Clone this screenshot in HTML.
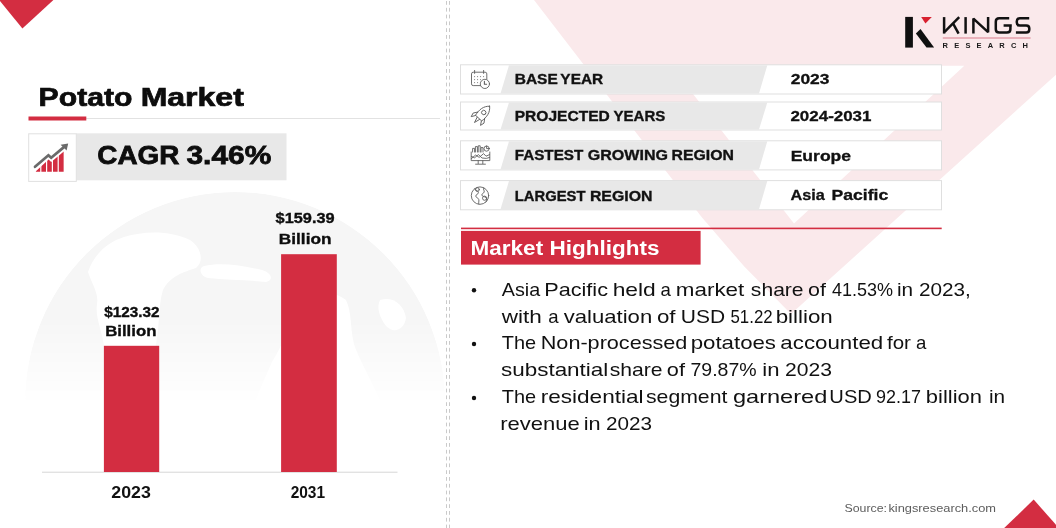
<!DOCTYPE html>
<html><head><meta charset="utf-8">
<style>
html,body{margin:0;padding:0;background:#fff;}
body{width:1056px;height:528px;position:relative;overflow:hidden;font-family:"Liberation Sans",sans-serif;}
svg{position:absolute;left:0;top:0;}
.t{opacity:0.999;position:absolute;white-space:nowrap;line-height:1;transform-origin:0 0;display:block;}
</style></head><body>
<svg width="1056" height="528" viewBox="0 0 1056 528">
<defs>
<linearGradient id="gfade" x1="0" y1="0" x2="0" y2="1">
<stop offset="0" stop-color="#fff" stop-opacity="1"/><stop offset="0.56" stop-color="#fff" stop-opacity="1"/><stop offset="0.9" stop-color="#fff" stop-opacity="0"/>
</linearGradient>
<mask id="gm"><rect x="0" y="180" width="460" height="250" fill="url(#gfade)"/></mask>
<clipPath id="gc"><circle cx="235" cy="402" r="210"/></clipPath>
</defs>
<!-- background V -->
<polygon points="534,0 1056,0 1056,74.7 791,314 744.5,266.8 702,217.6 634,130" fill="#fae9eb"/>
<polygon points="671,65.8 964.3,65.8 794,223.5" fill="#ffffff"/>
<!-- corner triangles -->
<polygon points="0,0 53.4,0 22.4,28.4 0,1" fill="#d32d41"/>
<polygon points="1004.2,528 1033.7,499.6 1056,524.8 1056,528" fill="#d32d41"/>
<!-- dashed separators -->
<line x1="446.5" y1="1" x2="446.5" y2="528" stroke="#cacaca" stroke-width="1" stroke-dasharray="3.8 3"/>
<line x1="449.5" y1="1" x2="449.5" y2="528" stroke="#cacaca" stroke-width="1" stroke-dasharray="3.8 3"/>
<!-- globe -->
<g mask="url(#gm)"><g clip-path="url(#gc)" fill="#f6f6f6">
<circle cx="235" cy="402" r="210"/>
<g fill="#ffffff">
<path d="M88,272 C94,254 108,242 124,237 C146,230 172,231 190,240 C202,248 204,262 196,268 C184,272 170,276 163,290 C158,306 160,324 156,344 C152,366 146,386 140,410 L98,410 C102,388 106,366 104,346 C102,330 95,318 97,304 C99,294 92,284 88,272 Z"/>
<path d="M284,332 C286,316 292,304 304,297 C318,291 334,291 346,300 C352,312 350,328 354,344 C360,362 372,380 384,410 L248,420 C256,398 264,380 272,362 C278,352 283,344 284,332 Z"/>
<path d="M204,266 C222,262 244,266 262,270 C272,273 274,280 266,282 C248,280 226,280 208,278 C200,276 198,268 204,266 Z"/>
<path d="M380,300 C392,296 404,304 406,318 C404,330 394,334 386,326 C380,318 376,308 380,300 Z"/>
</g>

</g></g>
<!-- title underline -->
<rect x="86" y="118" width="354" height="1" fill="#e2e2e2"/>
<rect x="28.5" y="116.5" width="57.8" height="4" fill="#d32d41"/>
<!-- CAGR -->
<rect x="76.3" y="133.3" width="210.2" height="47" fill="#e8e8e8"/>
<rect x="28.7" y="133.8" width="47.6" height="47.6" fill="#fff" stroke="#e0e0e0" stroke-width="1"/>
<g id="cagricon">
<g>
<clipPath id="barsclip"><polygon points="35.6,171.8 35.6,171.4 48.6,159.6 51.2,162 63.8,151.4 63.8,171.8"/></clipPath>
<g clip-path="url(#barsclip)" fill="#d32d41">
<rect x="35.6" y="140" width="4.6" height="32"/>
<rect x="41.4" y="140" width="4.6" height="32"/>
<rect x="47.2" y="140" width="4.6" height="32"/>
<rect x="53.0" y="140" width="4.6" height="32"/>
<rect x="58.8" y="140" width="5.0" height="32"/>
</g>
<path d="M35,166.8 L48.4,155.2 L51.2,157.8 L63.6,147.4" fill="none" stroke="#6a6a6a" stroke-width="2.7" stroke-linecap="round" stroke-linejoin="miter"/>
<polygon points="68.2,143.6 66.6,150.6 60.6,144.8" fill="#6a6a6a"/>
</g>

</g>
<!-- bars -->
<rect x="42" y="471.7" width="355.5" height="1" fill="#d6d6d6"/>
<rect x="103.9" y="345.8" width="55.3" height="126.2" fill="#d32d41"/>
<rect x="281.1" y="254.2" width="55.7" height="217.8" fill="#d32d41"/>
<!-- rows -->
<rect x="460.5" y="64.8" width="481" height="29.2" fill="#fff" stroke="#dfdfdf" stroke-width="1"/>
<polygon points="509,65.3 767.3,65.3 759,93.5 500.5,93.5" fill="#e8e8e8"/>
<rect x="460.5" y="102.0" width="481" height="28.0" fill="#fff" stroke="#dfdfdf" stroke-width="1"/>
<polygon points="509,102.5 767.3,102.5 759,129.5 500.5,129.5" fill="#e8e8e8"/>
<rect x="460.5" y="140.8" width="481" height="29.1" fill="#fff" stroke="#dfdfdf" stroke-width="1"/>
<polygon points="509,141.3 767.3,141.3 759,169.4 500.5,169.4" fill="#e8e8e8"/>
<rect x="460.5" y="180.6" width="481" height="29.2" fill="#fff" stroke="#dfdfdf" stroke-width="1"/>
<polygon points="509,181.1 767.3,181.1 759,209.3 500.5,209.3" fill="#e8e8e8"/>
<g fill="none" stroke="#606060" stroke-width="0.9" stroke-linecap="round" stroke-linejoin="round">
<path d="M480.5,85.6 H473.2 Q471.5,85.6 471.5,83.9 V73.9 Q471.5,72.2 473.2,72.2 H485.1 Q486.8,72.2 486.8,73.9 V79.2"/>
<path d="M474.6,70.4 V73.4 M483.6,70.4 V73.4"/>
<circle cx="484.9" cy="83.9" r="4.6"/>
<path d="M484.4,81.4 V84.2 H486.6" stroke-width="1.1"/>
</g>
<g fill="#777">
<circle cx="474.6" cy="76.6" r="0.55"/><circle cx="477.6" cy="76.6" r="0.55"/><circle cx="480.6" cy="76.6" r="0.55"/><circle cx="483.6" cy="76.6" r="0.55"/>
<circle cx="474.6" cy="79.6" r="0.55"/><circle cx="477.6" cy="79.6" r="0.55"/><circle cx="480.6" cy="79.6" r="0.55"/>
<circle cx="474.6" cy="82.6" r="0.55"/><circle cx="477.6" cy="82.6" r="0.55"/>
</g>
<g fill="none" stroke="#606060" stroke-width="0.9" stroke-linecap="round" stroke-linejoin="round" transform="translate(480.9,115.6) rotate(43)">
<path d="M0,-12.8 C4.8,-8.8 5.4,-3 4.2,3.4 H-4.2 C-5.4,-3 -4.8,-8.8 0,-12.8 Z"/>
<circle cx="0" cy="-4.2" r="2.2"/>
<path d="M-4.6,-0.6 L-7.4,3.4 L-6.4,7.4 L-4,3.6"/>
<path d="M4.6,-0.6 L7.4,3.4 L6.4,7.4 L4,3.6"/>
<path d="M-1.6,3.8 L0,9.4 L1.6,3.8"/>
</g>
<g fill="none" stroke="#606060" stroke-width="0.9" stroke-linecap="round" stroke-linejoin="round" stroke-width="0.8">
<path d="M471.2,152 V160.6 H489.8 V152"/>
<path d="M478.2,160.6 V163.6 M482.8,160.6 V163.6 M475.6,164.2 H485.4"/>
<path d="M472.6,152 V148.4 H474.6 V152 M475.4,152 V146.6 H477.4 V152 M478.2,152 V145.8 H480.2 V152 M481,152 V147.6 H483 V152"/>
<circle cx="486.6" cy="148.6" r="2.6"/>
<path d="M486.6,146 V148.6 H489.2"/>
<path d="M471.4,158.6 L475.6,155 L479.2,157.4 L483.6,153.6 L486,156.2 L489.6,154.6"/>
<path d="M471.4,156.4 L474.6,157.8 L478.4,154.6 L482,158 L486.4,158.4 L489.6,157.4"/>
</g>
<g fill="none" stroke="#606060" stroke-width="0.9" stroke-linecap="round" stroke-linejoin="round" stroke-width="0.8">
<circle cx="480" cy="195.6" r="8.7"/>
<path d="M474.6,188.8 C476,191 478.6,190.4 478.4,192.8 C478.2,194.6 475.6,194.2 475.8,196.2 C476,198 478.4,197.6 478.8,199.6 C479.2,201.6 478.2,202.8 478.8,204.2"/>
<path d="M483.6,187.8 C482.8,189.6 484.6,190.4 484.2,192 C483.8,193.6 481.6,193.4 481.8,195 C482,196.6 484.4,196.2 485.6,197.4"/>
<circle cx="484.6" cy="198.2" r="2.1"/>
<circle cx="477.4" cy="189.6" r="1.9"/>
<path d="M486.6,199.2 C487.4,200.4 486.8,201.6 485.8,202.2"/>
</g>
<!-- market highlights -->
<rect x="461" y="227.6" width="480.7" height="1.6" fill="#d32d41"/>
<rect x="461" y="230.9" width="239.6" height="33.7" fill="#d32d41"/>
<!-- bullets -->
<circle cx="474" cy="290.2" r="2.2" fill="#111"/>
<circle cx="474" cy="344.0" r="2.2" fill="#111"/>
<circle cx="474" cy="398.0" r="2.2" fill="#111"/>
<!-- logo -->
<g>
<rect x="905.2" y="16.9" width="7.7" height="30.7" fill="#0f0f0f"/>
<polygon points="920.5,29 915.9,33.6 926.5,47.6 934.1,47.6" fill="#0f0f0f"/>
<polygon points="921.2,16.9 931.8,16.9 925.4,23.4" fill="#d8202f"/>
<g fill="none" stroke="#111" stroke-width="2.5" stroke-linecap="butt" stroke-linejoin="miter">
<path d="M944.1,17.1 V33.6"/>
<path d="M959.2,17.1 L944.6,31.8" stroke-linejoin="round"/>
<path d="M953,23.4 L958.6,33.6"/>
<path d="M965.6,17.1 V33.6"/>
<path d="M973.4,33.6 V18.6 L988.1,32.2 V17.1" stroke-linejoin="bevel"/>
<path d="M1009.2,18.3 H999.2 Q995.8,18.3 995.8,21.7 V29.2 Q995.8,32.6 999.2,32.6 H1007 Q1010.4,32.6 1010.4,29.2 V25.6 M1003.6,25.6 H1011.8"/>
<path d="M1029.2,18.3 H1019.8 Q1016.8,18.3 1016.8,21.3 V22.6 Q1016.8,25.6 1019.8,25.6 H1026.3 Q1029.3,25.6 1029.3,28.6 V29.6 Q1029.3,32.6 1026.3,32.6 H1015.9"/>
</g>
<rect x="942.8" y="37.4" width="87.8" height="1.2" fill="#de8f9c"/>
</g>

</svg>
<span class="t" id="title" style="-webkit-text-stroke:0.7px #0d0d0d;left:37px;top:83px;font-size:25.87px;font-weight:bold;color:#0d0d0d;transform:translate(1.58px,2.20px) scaleX(1.1665)">Potato</span>
<span class="t" id="title2" style="-webkit-text-stroke:0.7px #0d0d0d;left:140px;top:83px;font-size:25.87px;font-weight:bold;color:#0d0d0d;transform:translate(0.64px,2.20px) scaleX(1.2378)">Market</span>
<span class="t" id="cagr" style="-webkit-text-stroke:0.8px #0d0d0d;left:96px;top:143px;font-size:26.31px;font-weight:bold;color:#0d0d0d;transform:translate(1.35px,-0.52px) scaleX(1.0599)">CAGR</span>
<span class="t" id="cagr2" style="-webkit-text-stroke:0.8px #0d0d0d;left:184px;top:143px;font-size:26.31px;font-weight:bold;color:#0d0d0d;transform:translate(2.50px,-0.52px) scaleX(1.1365)">3.46%</span>
<span class="t" id="v2a" style="-webkit-text-stroke:0.35px #0d0d0d;left:274px;top:210px;font-size:14.83px;font-weight:bold;color:#0d0d0d;transform:translate(1.60px,1.45px) scaleX(1.1003)">$159.39</span>
<span class="t" id="v2b" style="-webkit-text-stroke:0.35px #0d0d0d;left:278px;top:231px;font-size:14.83px;font-weight:bold;color:#0d0d0d;transform:translate(0.84px,0.80px) scaleX(1.1614)">Billion</span>
<span class="t" id="v1a" style="-webkit-text-stroke:0.35px #0d0d0d;left:101px;top:304px;font-size:14.83px;font-weight:bold;color:#0d0d0d;transform:translate(3.26px,1.15px) scaleX(1.0315)">$123.32</span>
<span class="t" id="v1b" style="-webkit-text-stroke:0.35px #0d0d0d;left:103px;top:323px;font-size:14.83px;font-weight:bold;color:#0d0d0d;transform:translate(2.15px,1.10px) scaleX(1.1331)">Billion</span>
<span class="t" id="y1" style="left:110px;top:484px;font-size:15.80px;font-weight:bold;color:#111;transform:translate(1.25px,0.88px) scaleX(1.1249)">2023</span>
<span class="t" id="y2" style="left:289px;top:484px;font-size:15.80px;font-weight:bold;color:#111;transform:translate(1.63px,0.88px) scaleX(0.9789)">2031</span>
<span class="t" id="r1_0" style="-webkit-text-stroke:0.35px #111;left:513px;top:71px;font-size:14.53px;font-weight:bold;color:#111;transform:translate(1.73px,0.90px) scaleX(1.0667)">BASE</span>
<span class="t" id="r1_1" style="-webkit-text-stroke:0.35px #111;left:559px;top:71px;font-size:14.53px;font-weight:bold;color:#111;transform:translate(1.35px,0.90px) scaleX(1.0615)">YEAR</span>
<span class="t" id="r2_0" style="-webkit-text-stroke:0.35px #111;left:513px;top:108px;font-size:14.53px;font-weight:bold;color:#111;transform:translate(1.72px,0.60px) scaleX(1.0713)">PROJECTED</span>
<span class="t" id="r2_1" style="-webkit-text-stroke:0.35px #111;left:611px;top:108px;font-size:14.53px;font-weight:bold;color:#111;transform:translate(2.50px,0.60px) scaleX(1.0347)">YEARS</span>
<span class="t" id="r3_0" style="-webkit-text-stroke:0.35px #111;left:513px;top:147px;font-size:14.53px;font-weight:bold;color:#111;transform:translate(1.75px,1.00px) scaleX(1.0484)">FASTEST</span>
<span class="t" id="r3_1" style="-webkit-text-stroke:0.35px #111;left:585px;top:147px;font-size:14.53px;font-weight:bold;color:#111;transform:translate(2.80px,1.00px) scaleX(1.1042)">GROWING</span>
<span class="t" id="r3_2" style="-webkit-text-stroke:0.35px #111;left:670px;top:147px;font-size:14.53px;font-weight:bold;color:#111;transform:translate(1.54px,1.00px) scaleX(1.0893)">REGION</span>
<span class="t" id="r4_0" style="-webkit-text-stroke:0.35px #111;left:513px;top:188px;font-size:14.53px;font-weight:bold;color:#111;transform:translate(1.78px,0.90px) scaleX(1.0188)">LARGEST</span>
<span class="t" id="r4_1" style="-webkit-text-stroke:0.35px #111;left:589px;top:188px;font-size:14.53px;font-weight:bold;color:#111;transform:translate(0.91px,0.90px) scaleX(1.0929)">REGION</span>
<span class="t" id="w1" style="-webkit-text-stroke:0.3px #111;left:789px;top:71px;font-size:14.83px;font-weight:bold;color:#111;transform:translate(1.72px,1.45px) scaleX(1.1745)">2023</span>
<span class="t" id="w2" style="-webkit-text-stroke:0.3px #111;left:789px;top:108px;font-size:14.83px;font-weight:bold;color:#111;transform:translate(1.43px,1.00px) scaleX(1.1429)">2024-2031</span>
<span class="t" id="w3" style="-webkit-text-stroke:0.3px #111;left:789px;top:148px;font-size:14.83px;font-weight:bold;color:#111;transform:translate(1.65px,0.80px) scaleX(1.1824)">Europe</span>
<span class="t" id="w4_0" style="-webkit-text-stroke:0.3px #111;left:789px;top:187px;font-size:14.83px;font-weight:bold;color:#111;transform:translate(1.53px,0.75px) scaleX(1.0968)">Asia</span>
<span class="t" id="w4_1" style="-webkit-text-stroke:0.3px #111;left:829px;top:187px;font-size:14.83px;font-weight:bold;color:#111;transform:translate(2.60px,0.75px) scaleX(1.1851)">Pacific</span>
<span class="t" id="mh" style="left:469px;top:237px;font-size:20.35px;font-weight:bold;color:#ffffff;transform:translate(1.55px,1.12px) scaleX(1.1069)">Market Highlights</span>
<span class="t" id="b1_0" style="left:499px;top:279px;font-size:18.60px;font-weight:normal;color:#111;transform:translate(2.75px,1.65px) scaleX(1.0625)">Asia</span>
<span class="t" id="b1_1" style="left:544px;top:279px;font-size:18.60px;font-weight:normal;color:#111;transform:translate(0.21px,1.65px) scaleX(1.1651)">Pacific</span>
<span class="t" id="b1_2" style="left:612px;top:279px;font-size:18.60px;font-weight:normal;color:#111;transform:translate(0.66px,1.65px) scaleX(1.2266)">held</span>
<span class="t" id="b1_3" style="left:658px;top:279px;font-size:18.60px;font-weight:normal;color:#111;transform:translate(2.50px,1.65px) scaleX(1.0000)">a</span>
<span class="t" id="b1_4" style="left:675px;top:279px;font-size:18.60px;font-weight:normal;color:#111;transform:translate(0.79px,1.65px) scaleX(1.2054)">market</span>
<span class="t" id="b1_5" style="left:750px;top:279px;font-size:18.60px;font-weight:normal;color:#111;transform:translate(0.87px,1.65px) scaleX(1.1333)">share</span>
<span class="t" id="b1_6" style="left:806px;top:279px;font-size:18.60px;font-weight:normal;color:#111;transform:translate(2.00px,1.65px) scaleX(1.1513)">of</span>
<span class="t" id="b1_7" style="left:830px;top:279px;font-size:18.60px;font-weight:normal;color:#111;transform:translate(2.00px,1.65px) scaleX(0.9677)">41.53%</span>
<span class="t" id="b1_8" style="left:896px;top:279px;font-size:18.60px;font-weight:normal;color:#111;transform:translate(0.88px,1.65px) scaleX(1.1154)">in</span>
<span class="t" id="b1_9" style="left:918px;top:279px;font-size:18.60px;font-weight:normal;color:#111;transform:translate(1.00px,1.65px) scaleX(1.1136)">2023,</span>
<span class="t" id="b2_0" style="left:499px;top:306px;font-size:18.60px;font-weight:normal;color:#111;transform:translate(2.75px,2.05px) scaleX(1.2109)">with</span>
<span class="t" id="b2_1" style="left:546px;top:306px;font-size:18.60px;font-weight:normal;color:#111;transform:translate(2.25px,2.05px) scaleX(1.0000)">a</span>
<span class="t" id="b2_2" style="left:561px;top:306px;font-size:18.60px;font-weight:normal;color:#111;transform:translate(2.75px,2.05px) scaleX(1.1884)">valuation</span>
<span class="t" id="b2_3" style="left:655px;top:306px;font-size:18.60px;font-weight:normal;color:#111;transform:translate(1.90px,2.05px) scaleX(1.2000)">of</span>
<span class="t" id="b2_4" style="left:680px;top:306px;font-size:18.60px;font-weight:normal;color:#111;transform:translate(0.87px,2.05px) scaleX(1.1284)">USD</span>
<span class="t" id="b2_5" style="left:728px;top:306px;font-size:18.60px;font-weight:normal;color:#111;transform:translate(2.50px,2.05px) scaleX(0.9056)">51.22</span>
<span class="t" id="b2_6" style="left:775px;top:306px;font-size:18.60px;font-weight:normal;color:#111;transform:translate(0.67px,2.05px) scaleX(1.2012)">billion</span>
<span class="t" id="b3_0" style="left:499px;top:333px;font-size:18.60px;font-weight:normal;color:#111;transform:translate(2.75px,0.75px) scaleX(1.0726)">The</span>
<span class="t" id="b3_1" style="left:540px;top:333px;font-size:18.60px;font-weight:normal;color:#111;transform:translate(0.76px,0.75px) scaleX(1.1626)">Non-processed</span>
<span class="t" id="b3_2" style="left:690px;top:333px;font-size:18.60px;font-weight:normal;color:#111;transform:translate(0.68px,0.75px) scaleX(1.1959)">potatoes</span>
<span class="t" id="b3_3" style="left:779px;top:333px;font-size:18.60px;font-weight:normal;color:#111;transform:translate(1.35px,0.75px) scaleX(1.1994)">accounted</span>
<span class="t" id="b3_4" style="left:885px;top:333px;font-size:18.60px;font-weight:normal;color:#111;transform:translate(2.00px,0.75px) scaleX(1.1023)">for</span>
<span class="t" id="b3_5" style="left:915px;top:333px;font-size:18.60px;font-weight:normal;color:#111;transform:translate(1.00px,0.75px) scaleX(1.0000)">a</span>
<span class="t" id="b4_0" style="left:499px;top:360px;font-size:18.60px;font-weight:normal;color:#111;transform:translate(1.99px,0.75px) scaleX(1.2069)">substantial</span>
<span class="t" id="b4_1" style="left:609px;top:360px;font-size:18.60px;font-weight:normal;color:#111;transform:translate(0.63px,0.75px) scaleX(1.1347)">share</span>
<span class="t" id="b4_2" style="left:666px;top:360px;font-size:18.60px;font-weight:normal;color:#111;transform:translate(0.83px,0.75px) scaleX(1.1667)">of</span>
<span class="t" id="b4_3" style="left:689px;top:360px;font-size:18.60px;font-weight:normal;color:#111;transform:translate(1.46px,0.75px) scaleX(1.0484)">79.87%</span>
<span class="t" id="b4_4" style="left:761px;top:360px;font-size:18.60px;font-weight:normal;color:#111;transform:translate(1.27px,0.75px) scaleX(1.1875)">in</span>
<span class="t" id="b4_5" style="left:783px;top:360px;font-size:18.60px;font-weight:normal;color:#111;transform:translate(2.08px,0.75px) scaleX(1.1346)">2023</span>
<span class="t" id="b5_0" style="left:499px;top:387px;font-size:18.60px;font-weight:normal;color:#111;transform:translate(2.75px,0.75px) scaleX(1.0726)">The</span>
<span class="t" id="b5_1" style="left:540px;top:387px;font-size:18.60px;font-weight:normal;color:#111;transform:translate(0.68px,0.75px) scaleX(1.2134)">residential</span>
<span class="t" id="b5_2" style="left:645px;top:387px;font-size:18.60px;font-weight:normal;color:#111;transform:translate(0.98px,0.75px) scaleX(1.1410)">segment</span>
<span class="t" id="b5_3" style="left:731px;top:387px;font-size:18.60px;font-weight:normal;color:#111;transform:translate(1.92px,0.75px) scaleX(1.2674)">garnered</span>
<span class="t" id="b5_4" style="left:829px;top:387px;font-size:18.60px;font-weight:normal;color:#111;transform:translate(0.36px,0.75px) scaleX(1.0811)">USD</span>
<span class="t" id="b5_5" style="left:875px;top:387px;font-size:18.60px;font-weight:normal;color:#111;transform:translate(1.03px,0.75px) scaleX(0.9667)">92.17</span>
<span class="t" id="b5_6" style="left:925px;top:387px;font-size:18.60px;font-weight:normal;color:#111;transform:translate(0.82px,0.75px) scaleX(1.1793)">billion</span>
<span class="t" id="b5_7" style="left:988px;top:387px;font-size:18.60px;font-weight:normal;color:#111;transform:translate(0.88px,0.75px) scaleX(1.1154)">in</span>
<span class="t" id="b6_0" style="left:499px;top:414px;font-size:18.60px;font-weight:normal;color:#111;transform:translate(1.27px,0.55px) scaleX(1.1846)">revenue</span>
<span class="t" id="b6_1" style="left:583px;top:414px;font-size:18.60px;font-weight:normal;color:#111;transform:translate(0.75px,0.55px) scaleX(1.1667)">in</span>
<span class="t" id="b6_2" style="left:605px;top:414px;font-size:18.60px;font-weight:normal;color:#111;transform:translate(1.00px,0.55px) scaleX(1.1125)">2023</span>
<span class="t" id="rs" style="letter-spacing:6.2px;left:940px;top:41px;font-size:7.56px;font-weight:bold;color:#1a1a1a;transform:translate(2.60px,0.50px) scaleX(0.9954)">RESEARCH</span>
<span class="t" id="src_0" style="left:842px;top:502px;font-size:11.48px;font-weight:normal;color:#5c5c5c;transform:translate(2.50px,0.78px) scaleX(1.0763)">Source:</span>
<span class="t" id="src_1" style="left:886px;top:502px;font-size:11.48px;font-weight:normal;color:#5c5c5c;transform:translate(2.40px,0.78px) scaleX(1.1179)">kingsresearch.com</span>
</body></html>
